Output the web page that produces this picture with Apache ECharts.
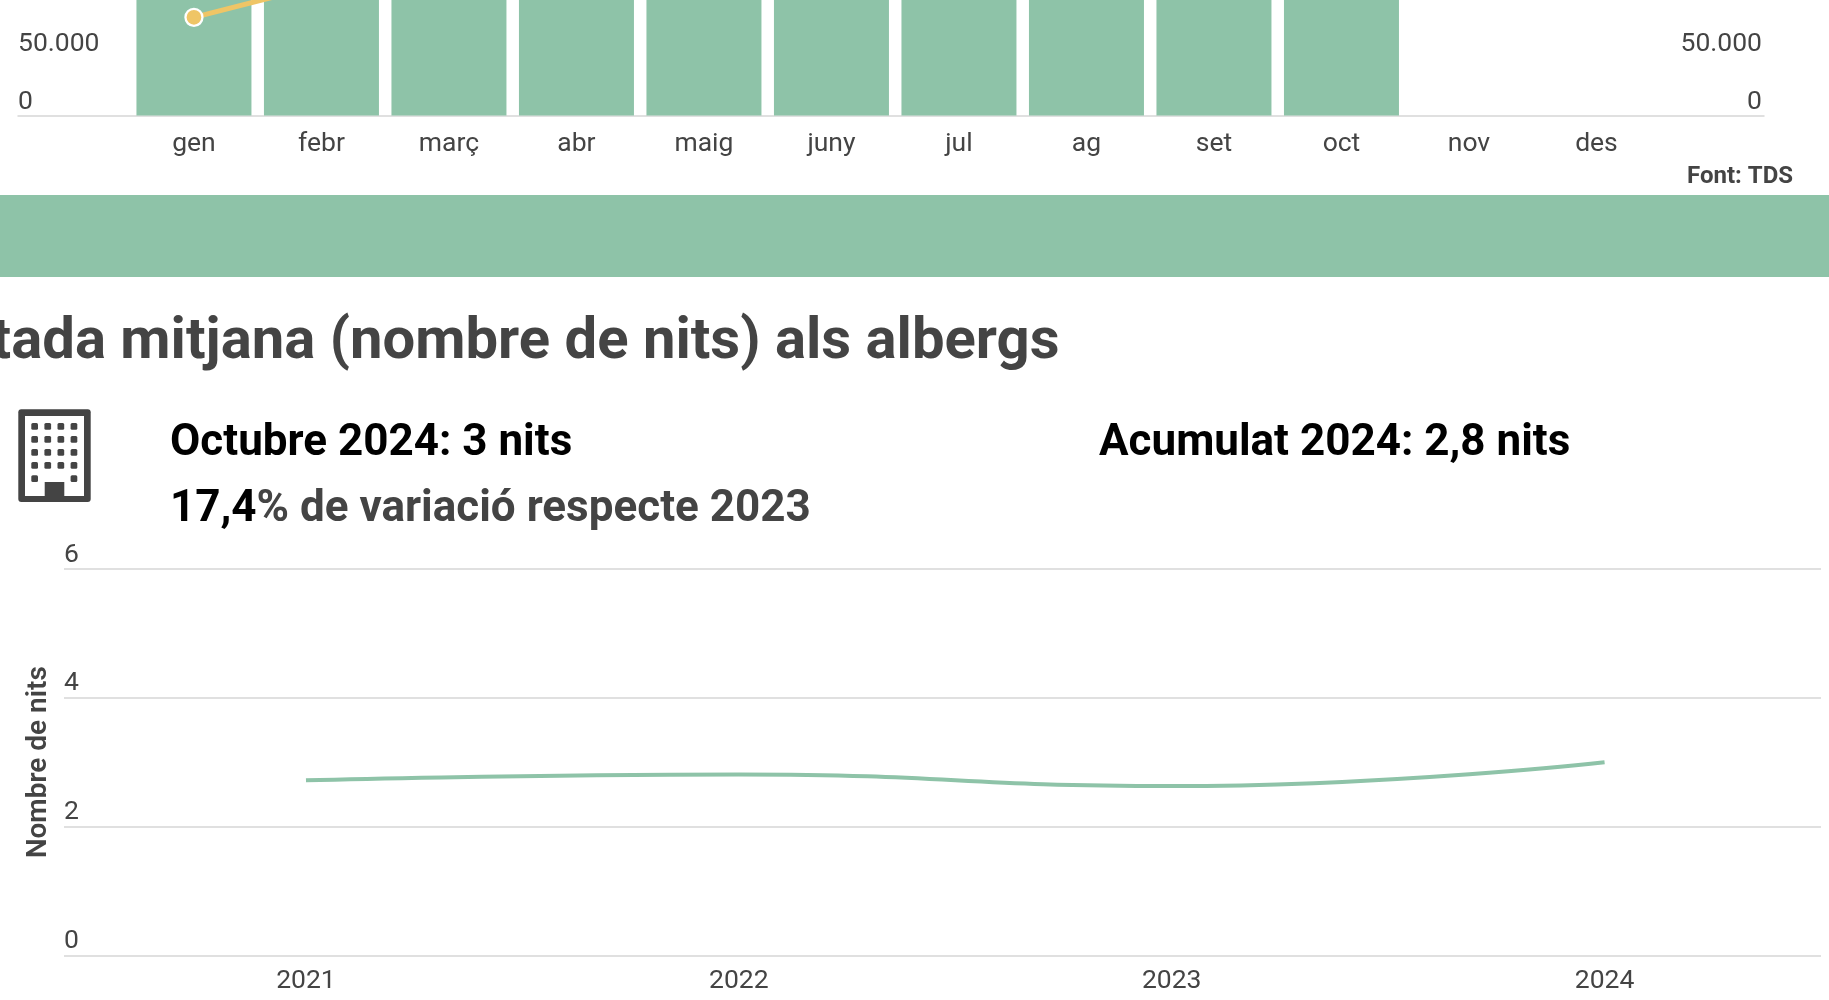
<!DOCTYPE html>
<html><head><meta charset="utf-8">
<style>html,body{margin:0;padding:0;background:#fff;overflow:hidden}#c{width:1829px;height:1000px}</style>
<script src="https://cdn.jsdelivr.net/npm/echarts@6/dist/echarts.min.js"></script>
</head><body><div id="c"></div>
<script>
const months = ['gen','febr','març','abr','maig','juny','jul','ag','set','oct','nov','des'];
const barValues = [190000,190000,200000,210000,220000,240000,280000,270000,240000,210000,null,null];
const lineValues = [84650,112600,150000,160000,170000,190000,230000,220000,190000,160000,null,null];
const years = [2021,2022,2023,2024];
const nights = [2.72,2.81,2.63,3.0];
const topTicks = [0,50000];
const bottomTicks = [0,2,4,6];

const GREEN='#8ec3a8', YEL='#efc566', DARK='#444444', GRID='#d6d6d6', FF='Roboto';
const fs=26.5;
const fmt=v=>v===0?'0':String(v).replace(/\B(?=(\d{3})+$)/g,'.');
const idx=months.map((_,i)=>i);
const pair=(a)=>a.map((v,i)=>[i,v]);

// building icon (decoration)
const ic=[];
const R=(x,y,w,h,fill,r)=>ic.push({type:'rect',shape:{x,y,width:w,height:h,r:r||0},style:{fill}});
R(18.3,409.3,72.4,92.7,DARK,3);
R(25,416,59,80,'#fff');
for(let r=0;r<4;r++)for(let c=0;c<4;c++)R(31.3+c*13.1,423+r*13,6.7,6.7,DARK,1.5);
R(31.3,475.3,6.7,6.7,DARK,1.5);R(70.6,475.3,6.7,6.7,DARK,1.5);
R(44.7,482,19.6,14,DARK);

const yLabel={customValues:topTicks,inside:true,margin:0,verticalAlign:'bottom',lineHeight:24,color:DARK,fontSize:fs,fontFamily:FF,formatter:fmt};

const option={
 animation:false,
 backgroundColor:'#fff',
 textStyle:{fontFamily:FF},
 grid:[
  {left:18,right:65,top:-232.5,height:348,containLabel:false,outerBoundsMode:'none'},
  {left:64,right:8,top:569,height:386.5,containLabel:false,outerBoundsMode:'none'}
 ],
 xAxis:[
  {gridIndex:0,type:'value',min:-1.38,max:12.314,splitLine:{show:false},
   axisLine:{show:true,onZero:false,lineStyle:{color:GRID,width:1.5}},axisTick:{show:false},
   axisLabel:{customValues:idx,formatter:v=>months[v],color:DARK,fontSize:fs,fontFamily:FF,margin:15,showMinLabel:true,showMaxLabel:true,hideOverlap:false}},
  {gridIndex:1,type:'value',min:2020.441,max:2024.5,splitLine:{show:false},
   axisLine:{show:false},axisTick:{show:false},
   axisLabel:{customValues:years,formatter:v=>String(v),color:DARK,fontSize:fs,fontFamily:FF,margin:12}}
 ],
 yAxis:[
  {gridIndex:0,type:'value',min:0,max:300000,interval:50000,position:'left',splitLine:{show:false},axisLine:{show:false},axisTick:{show:false},
   axisLabel:Object.assign({},yLabel,{padding:[0,0,1,0]})},
  {gridIndex:0,type:'value',min:0,max:300000,interval:50000,position:'right',splitLine:{show:false},axisLine:{show:false},axisTick:{show:false},
   axisLabel:Object.assign({},yLabel,{padding:[0,2,1,0]})},
  {gridIndex:1,type:'value',min:0,max:6,interval:2,splitLine:{show:true,lineStyle:{color:GRID,width:1.5}},axisLine:{show:false},axisTick:{show:false},
   name:'Nombre de nits',nameLocation:'middle',nameRotate:90,nameGap:11,nameTextStyle:{color:DARK,fontSize:28,fontWeight:600,fontFamily:FF},
   axisLabel:{customValues:bottomTicks,inside:true,margin:0,verticalAlign:'bottom',lineHeight:28,padding:[0,0,0,0],color:DARK,fontSize:fs,fontFamily:FF}}
 ],
 series:[
  {type:'bar',xAxisIndex:0,yAxisIndex:0,data:pair(barValues),barWidth:115,itemStyle:{color:GREEN}},
  {type:'line',xAxisIndex:0,yAxisIndex:0,data:pair(lineValues),symbol:'circle',symbolSize:17,z:5,
   lineStyle:{color:YEL,width:5},itemStyle:{color:YEL,borderColor:'#fff',borderWidth:2.3}},
  {type:'line',xAxisIndex:1,yAxisIndex:2,data:years.map((y,i)=>[y,nights[i]]),smooth:0.5,smoothMonotone:'x',symbol:'none',
   lineStyle:{color:GREEN,width:4,cap:'butt'},itemStyle:{color:GREEN}}
 ],
 graphic:[
  {type:'rect',shape:{x:0,y:195,width:1829,height:82},style:{fill:GREEN},silent:true},
  {type:'text',style:{text:'Font: TDS',x:1793,y:177,align:'right',verticalAlign:'middle',fill:DARK,font:'700 24px Roboto'}},
  {type:'text',style:{text:'Estada mitjana (nombre de nits) als albergs',x:1059.5,y:343.5,align:'right',verticalAlign:'middle',fill:DARK,font:'700 58px Roboto'}},
  {type:'text',style:{text:'Octubre 2024: 3 nits',x:170,y:443.5,align:'left',verticalAlign:'middle',fill:'#000',font:'700 44px Roboto'}},
  {type:'text',style:{text:'Acumulat 2024: 2,8 nits',x:1099,y:443.5,align:'left',verticalAlign:'middle',fill:'#000',font:'700 44px Roboto'}},
  {type:'text',style:{x:170,y:509.5,align:'left',verticalAlign:'middle',text:'{a|17,4}{b|% de variació respecte 2023}',
    rich:{a:{fill:'#000',font:'700 44px Roboto'},b:{fill:DARK,font:'700 44px Roboto'}}}},
  {type:'group',children:ic,silent:true}
 ]
};
const chart=echarts.init(document.getElementById('c'),null,{renderer:'canvas',width:1829,height:1000});
chart.setOption(option);
</script></body></html>
